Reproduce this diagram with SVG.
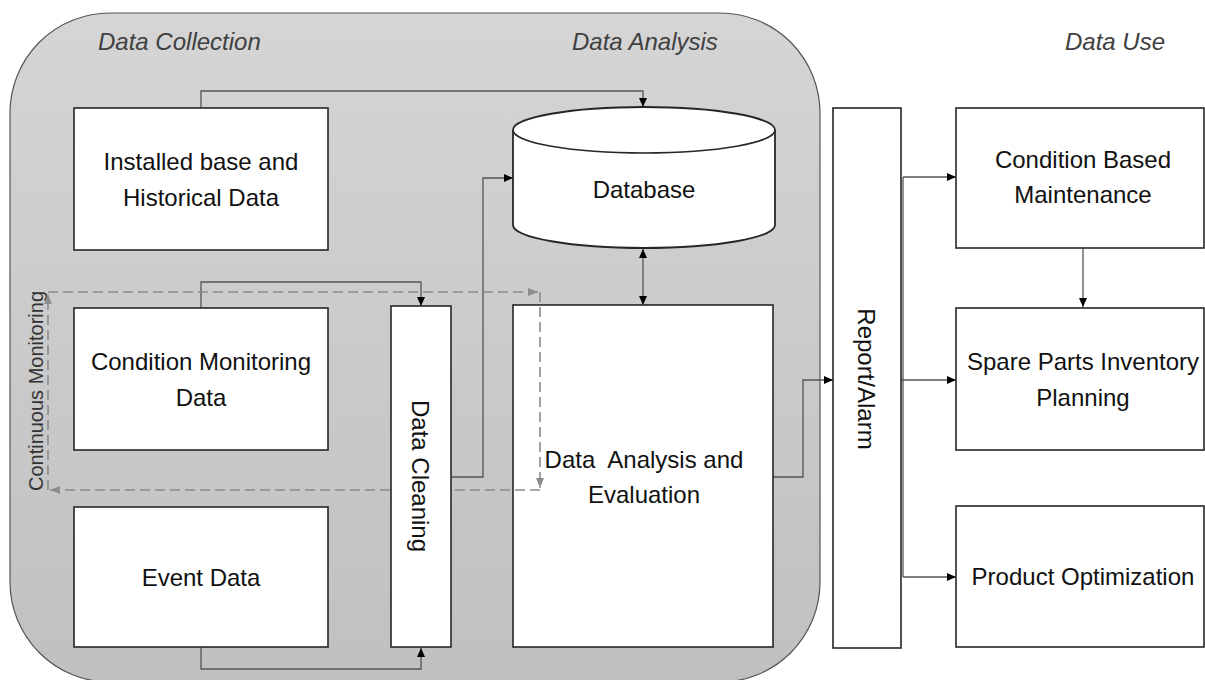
<svg xmlns="http://www.w3.org/2000/svg" width="1205" height="680" viewBox="0 0 1205 680">
  <defs>
    <linearGradient id="zoneFill" x1="0" y1="0" x2="0" y2="1">
      <stop offset="0" stop-color="#d5d5d5"/>
      <stop offset="1" stop-color="#c0c0c0"/>
    </linearGradient>
    <marker id="arrow" viewBox="0 0 9 8" refX="9" refY="4" markerWidth="9" markerHeight="8" markerUnits="userSpaceOnUse" orient="auto-start-reverse">
      <path d="M0,0 L9,4 L0,8 Z" fill="#000"/>
    </marker>
    <marker id="arrowGray" viewBox="0 0 10 8" refX="10" refY="4" markerWidth="10" markerHeight="8" markerUnits="userSpaceOnUse" orient="auto">
      <path d="M0,0 L10,4 L0,8 Z" fill="#8c8c8c"/>
    </marker>
  </defs>
  <style>
    .box{fill:#fff;stroke:#262626;stroke-width:1.6}
    .lbl{font-family:"Liberation Sans",Arial,sans-serif;font-size:24px;fill:#111;text-anchor:middle}
    .head{font-family:"Liberation Sans",Arial,sans-serif;font-style:italic;font-size:24px;fill:#404040}
    .conn{fill:none;stroke:#555;stroke-width:1.3}
    .loop{fill:none;stroke:#8c8c8c;stroke-width:1.6;stroke-dasharray:10 5}
  </style>

  <!-- white page -->
  <rect x="0" y="0" width="1205" height="680" fill="#fff"/>

  <!-- shaded zone: collection + analysis -->
  <rect id="zone" x="10" y="13" width="810" height="669" rx="100" ry="100" fill="url(#zoneFill)" stroke="#555" stroke-width="1.2"/>

  <!-- column headings -->
  <g id="headings">
    <text class="head" x="98" y="50">Data Collection</text>
    <text class="head" x="572" y="50">Data Analysis</text>
    <text class="head" x="1065" y="50">Data Use</text>
  </g>

  <!-- connectors -->
  <g id="connectors">
    <path class="conn" d="M201,108 V91 H643 V107" marker-end="url(#arrow)"/>
    <path class="conn" d="M201,308 V282 H421 V306" marker-end="url(#arrow)"/>
    <path class="conn" d="M201,647 V669 H421 V648" marker-end="url(#arrow)"/>
    <path class="conn" d="M451,477 H483 V178 H513" marker-end="url(#arrow)"/>
    <path class="conn" d="M643,249 V305" marker-start="url(#arrow)" marker-end="url(#arrow)"/>
    <path class="conn" d="M773,477 H803 V380 H833" marker-end="url(#arrow)"/>
    <path class="conn" d="M901,380 H956" marker-end="url(#arrow)"/>
    <path class="conn" d="M903,177 V577"/>
    <path class="conn" d="M903,177 H956" marker-end="url(#arrow)"/>
    <path class="conn" d="M903,577 H956" marker-end="url(#arrow)"/>
    <path class="conn" d="M1083,248 V307" marker-end="url(#arrow)"/>
  </g>

  <text id="loop-label" transform="translate(43,391) rotate(-90)" font-family="Liberation Sans, Arial, sans-serif" font-size="20" fill="#333" text-anchor="middle">Continuous Monitoring</text>

  <g id="installed-base">
    <rect class="box" x="74" y="108" width="254" height="142"/>
    <text class="lbl" x="201" y="170">Installed base and</text>
    <text class="lbl" x="201" y="206">Historical Data</text>
  </g>

  <g id="condition-monitoring">
    <rect class="box" x="74" y="308" width="254" height="142"/>
    <text class="lbl" x="201" y="370">Condition Monitoring</text>
    <text class="lbl" x="201" y="406">Data</text>
  </g>

  <g id="event-data">
    <rect class="box" x="74" y="507" width="254" height="140"/>
    <text class="lbl" x="201" y="586">Event Data</text>
  </g>

  <g id="database">
    <path d="M513,130 V225 A131,23 0 0 0 775,225 V130 A131,23 0 0 0 513,130 Z" fill="#fff" stroke="#262626" stroke-width="1.8"/>
    <path d="M513,130 A131,23 0 0 0 775,130" fill="none" stroke="#262626" stroke-width="1.6"/>
    <text class="lbl" x="644" y="198">Database</text>
  </g>

  <g id="analysis">
    <rect class="box" x="513" y="305" width="260" height="342"/>
    <text class="lbl" x="644" y="468" xml:space="preserve">Data  Analysis and</text>
    <text class="lbl" x="644" y="503">Evaluation</text>
  </g>

  <!-- continuous monitoring loop, drawn over the analysis box -->
  <g id="monitoring-loop">
    <path class="loop" d="M48,292 H538" marker-end="url(#arrowGray)"/>
    <path class="loop" d="M540,292 V488" marker-end="url(#arrowGray)"/>
    <path class="loop" d="M540,490 H50" marker-end="url(#arrowGray)"/>
    <path class="loop" d="M48,490 V294" marker-end="url(#arrowGray)"/>
  </g>

  <g id="data-cleaning">
    <rect class="box" x="391" y="306" width="60" height="341"/>
    <text class="lbl" transform="translate(412,476) rotate(90)">Data Cleaning</text>
  </g>

  <g id="report">
    <rect class="box" x="833" y="108" width="68" height="540"/>
    <text class="lbl" transform="translate(858,379) rotate(90)" font-size="25">Report/Alarm</text>
  </g>

  <g id="cbm">
    <rect class="box" x="956" y="108" width="248" height="140"/>
    <text class="lbl" x="1083" y="168">Condition Based</text>
    <text class="lbl" x="1083" y="203">Maintenance</text>
  </g>

  <g id="spare-parts">
    <rect class="box" x="956" y="308" width="248" height="142"/>
    <text class="lbl" x="1083" y="370">Spare Parts Inventory</text>
    <text class="lbl" x="1083" y="406">Planning</text>
  </g>

  <g id="product-optimization">
    <rect class="box" x="956" y="506" width="248" height="141"/>
    <text class="lbl" x="1083" y="585">Product Optimization</text>
  </g>
</svg>
